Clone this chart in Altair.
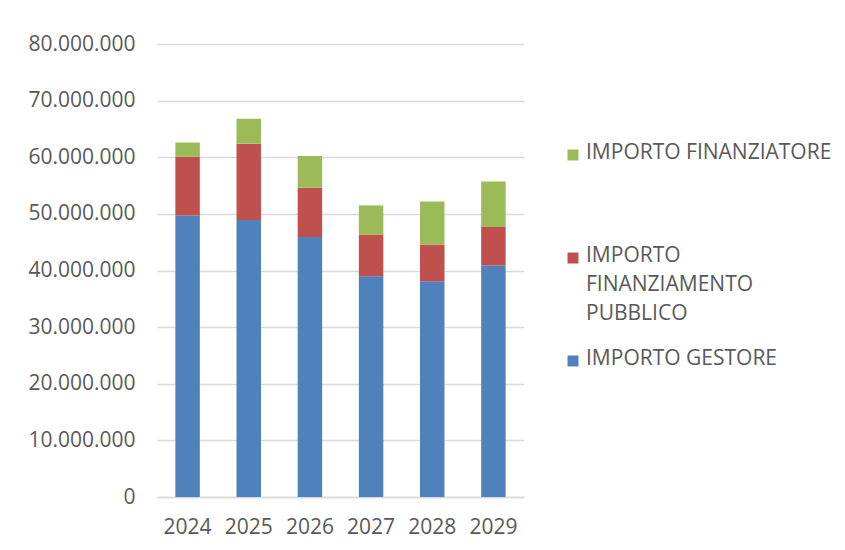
import altair as alt
import pandas as pd

years = ["2024", "2025", "2026", "2027", "2028", "2029"]
series = ["IMPORTO GESTORE", "IMPORTO FINANZIAMENTO PUBBLICO", "IMPORTO FINANZIATORE"]
gestore = [49_700_000, 48_900_000, 45_900_000, 39_000_000, 38_100_000, 40_900_000]
pubblico = [10_400_000, 13_500_000, 8_700_000, 7_300_000, 6_500_000, 6_800_000]
finanziatore = [2_500_000, 4_400_000, 5_600_000, 5_200_000, 7_600_000, 8_000_000]
colors = ["#4F81BD", "#C0504D", "#9BBB59"]
legend_labels = ["IMPORTO GESTORE", "IMPORTO\nFINANZIAMENTO\nPUBBLICO", "IMPORTO FINANZIATORE"]
y_ticks = list(range(0, 80_000_001, 10_000_000))

FONT = "Open Sans"
TXT = "#595959"
GRID = "#D9D9D9"

rows = []
for i, s in enumerate(series):
    vals = [gestore, pubblico, finanziatore][i]
    for y, v in zip(years, vals):
        rows.append({"anno": y, "serie": s, "ord": i, "valore": v})
df = pd.DataFrame(rows)

leg = pd.DataFrame({"serie": series, "label": legend_labels})
legend_order = list(reversed(series))

color_scale = alt.Scale(domain=series, range=colors)

bars = alt.Chart(df).mark_bar().encode(
    x=alt.X("anno:N", sort=years, title=None,
            scale=alt.Scale(paddingInner=0.6, paddingOuter=0.3),
            axis=alt.Axis(labelAngle=0, labelFontSize=21, labelColor=TXT, labelFont=FONT,
                          domain=True, domainColor=GRID, domainWidth=1.5,
                          ticks=False, labelPadding=19, grid=False)),
    y=alt.Y("valore:Q", title=None, stack="zero",
            scale=alt.Scale(domain=[0, 80_000_000], nice=False),
            axis=alt.Axis(values=y_ticks, labelFontSize=21, labelColor=TXT, labelFont=FONT,
                          labelExpr="join(split(format(datum.value, ',d'), ','), '.')",
                          domain=False, ticks=False, labelPadding=22,
                          grid=True, gridColor=GRID, gridWidth=1.5,
                          minExtent=140, maxExtent=140)),
    color=alt.Color("serie:N", scale=color_scale, legend=None),
    order=alt.Order("ord:Q", sort="ascending"),
).properties(width=367, height=453)

leg_y = alt.Y("serie:N", sort=legend_order, axis=None,
              scale=alt.Scale(type="point", range=[111, 317], padding=0))

leg_sym = alt.Chart(leg).mark_square(size=120, opacity=1).encode(
    x=alt.value(49),
    y=leg_y,
    color=alt.Color("serie:N", scale=color_scale, legend=None),
)
leg_txt = alt.Chart(leg).mark_text(
    align="left", baseline="top", lineBreak="\n", lineHeight=29,
    fontSize=21, font=FONT, color=TXT, dy=-13,
).encode(
    x=alt.value(62),
    y=leg_y,
    text="label:N",
)
legend_panel = alt.layer(leg_sym, leg_txt).properties(width=290, height=453)

chart = alt.hconcat(bars, legend_panel, spacing=0).properties(
    padding={"left": 9, "top": 25, "right": 5, "bottom": 5},
    background="white",
).configure_view(stroke=None)

chart.save("out.html", embed_options={"renderer": "svg", "actions": False})
